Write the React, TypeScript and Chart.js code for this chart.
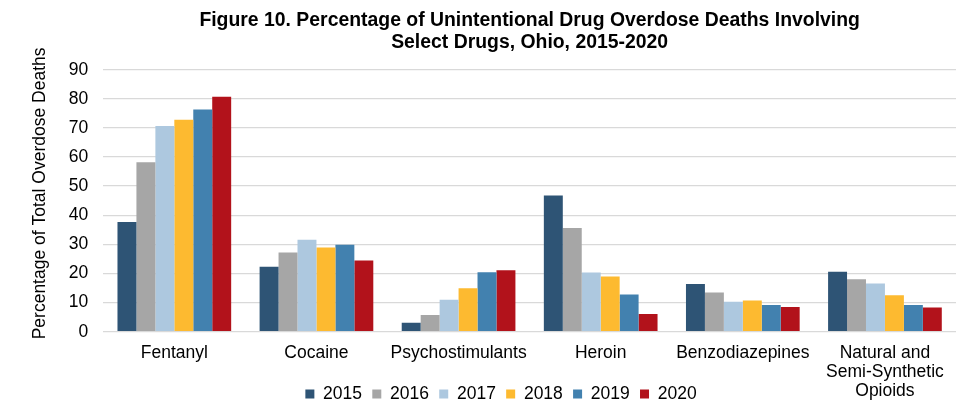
import React, { useEffect, useRef } from 'react';
import { Chart, registerables } from 'chart.js';

Chart.register(...registerables);

const titleLines = [
  'Figure 10. Percentage of Unintentional Drug Overdose Deaths Involving',
  'Select Drugs, Ohio, 2015-2020',
];
const yAxisTitle = '   Percentage of Total Overdose Deaths';
const categories: (string | string[])[] = [
  'Fentanyl',
  'Cocaine',
  'Psychostimulants',
  'Heroin',
  'Benzodiazepines',
  ['Natural and', 'Semi-Synthetic', 'Opioids'],
];
const years = ['2015', '2016', '2017', '2018', '2019', '2020'];
const colors = ['#2E5475', '#A6A6A6', '#ADC8DF', '#FDBA30', '#4281AF', '#B2121B'];

const values2015 = [37.7, 22.3, 3.1, 46.8, 16.4, 20.6];
const values2016 = [58.2, 27.2, 5.7, 35.6, 13.5, 18.0];
const values2017 = [70.7, 31.6, 11.0, 20.3, 10.3, 16.6];
const values2018 = [72.8, 28.9, 14.9, 19.0, 10.7, 12.5];
const values2019 = [76.3, 29.9, 20.4, 12.8, 9.2, 9.2];
const values2020 = [80.7, 24.5, 21.1, 6.1, 8.5, 8.3];
const series = [values2015, values2016, values2017, values2018, values2019, values2020];

const yMin = 0;
const yMax = 90;
const yStep = 10;

const FONT = "'Liberation Sans', Arial, sans-serif";
const LEGEND_DX = -28.6;

const legendShift = {
  id: 'legendShift',
  afterLayout(chart: any) {
    const l = chart.legend;
    if (l) {
      l.left += LEGEND_DX;
      l.right += LEGEND_DX;
    }
  },
};

export default function App() {
  const ref = useRef<HTMLCanvasElement>(null);

  useEffect(() => {
    if (!ref.current) return;
    const chart = new Chart(ref.current, {
      type: 'bar',
      data: {
        labels: categories as any,
        datasets: series.map((vals, i) => ({
          label: years[i],
          data: vals,
          backgroundColor: colors[i],
          borderWidth: 0,
          categoryPercentage: 0.8,
          barPercentage: 1.0,
        })),
      },
      options: {
        responsive: false,
        animation: false,
        events: [],
        layout: { padding: { left: 0, right: 15, top: 0, bottom: 6.35 } },
        plugins: {
          title: {
            display: true,
            text: titleLines,
            fullSize: false,
            color: '#000',
            font: { family: FONT, size: 19.4, weight: 'bold', lineHeight: 1.134 },
            padding: { top: 9.6, bottom: 16.1 },
          },
          legend: {
            position: 'bottom',
            fullSize: false,
            labels: {
              boxWidth: 9,
              boxHeight: 9,
              padding: 10.25,
              color: '#000',
              font: { family: FONT, size: 17.5 },
            },
          },
          tooltip: { enabled: false },
        },
        scales: {
          x: {
            grid: { display: false, drawTicks: false },
            border: { display: false },
            ticks: {
              color: '#000',
              font: { family: FONT, size: 17.5, lineHeight: 1.08 },
              padding: 12,
              maxRotation: 0,
              autoSkip: false,
            },
            afterFit: (s: any) => {
              s.height = 43.2;
              s._computeLabelArea = () => undefined;
            },
          },
          y: {
            min: yMin,
            max: yMax,
            ticks: {
              stepSize: yStep,
              color: '#000',
              font: { family: FONT, size: 17.5 },
              padding: 15,
            },
            grid: { color: '#D9D9D9', lineWidth: 1.3, drawTicks: false },
            border: { display: false },
            title: {
              display: true,
              text: yAxisTitle,
              color: '#000',
              font: { family: FONT, size: 17.5, lineHeight: 1.2 },
              padding: { top: 29.5, bottom: 3.3 },
            },
          },
        },
      } as any,
      plugins: [legendShift],
    });
    return () => chart.destroy();
  }, []);

  return (
    <div style={{ position: 'absolute', left: 0, top: 0, width: 971, height: 419, background: '#fff' }}>
      <canvas ref={ref} width={971} height={419} style={{ display: 'block' }} />
    </div>
  );
}
